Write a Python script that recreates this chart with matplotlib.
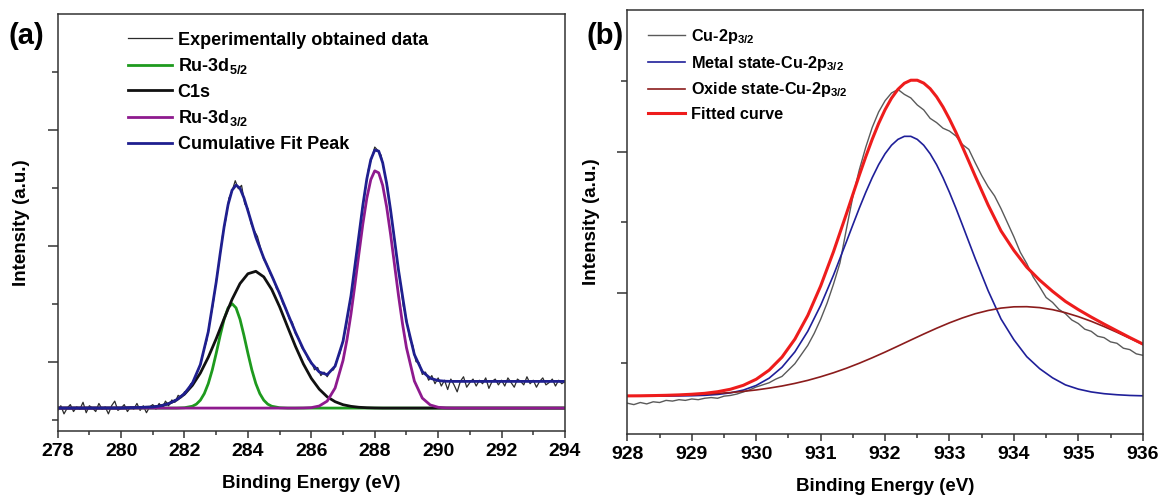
import numpy as np
import matplotlib
matplotlib.use("Agg")
import matplotlib.pyplot as plt
from matplotlib.ticker import MultipleLocator, FixedLocator

plt.rcParams['font.family'] = ['Liberation Sans', 'DejaVu Sans']
plt.rcParams['font.weight'] = 'bold'
plt.rcParams['mathtext.fontset'] = 'custom'
plt.rcParams['mathtext.rm'] = 'Liberation Sans:bold'
plt.rcParams['mathtext.it'] = 'Liberation Sans:bold'
plt.rcParams['mathtext.bf'] = 'Liberation Sans:bold'
plt.rcParams['mathtext.default'] = 'rm'

# ---- panel (a): Ru 3d / C 1s ----
a_data_y = [
    # 278.0 - 281.0
    0.58, 0.62, 0.55, 0.60, 0.63, 0.57, 0.61, 0.59, 0.65, 0.56,
    0.62, 0.60, 0.57, 0.64, 0.59, 0.61, 0.55, 0.62, 0.66, 0.58,
    0.60, 0.63, 0.57, 0.61, 0.59, 0.64, 0.58, 0.62, 0.56, 0.61, 0.63,
    # 281.1 - 289.9
    0.59, 0.64, 0.60, 0.66, 0.62, 0.67, 0.65, 0.71, 0.69,
    0.74, 0.75, 0.81, 0.83, 0.91, 0.97, 1.09, 1.18, 1.35, 1.49,
    1.70, 1.87, 2.09, 2.22, 2.41, 2.47, 2.56, 2.49, 2.52, 2.36,
    2.32, 2.19, 2.13, 2.08, 1.98, 1.88, 1.84, 1.76, 1.72, 1.63,
    1.60, 1.50, 1.46, 1.37, 1.34, 1.24, 1.20, 1.12, 1.09, 1.02,
    1.00, 0.93, 0.95, 0.88, 0.91, 0.87, 0.92, 0.93, 1.01, 1.07,
    1.19, 1.30, 1.49, 1.65, 1.88, 2.08, 2.30, 2.48, 2.66, 2.75,
    2.85, 2.82, 2.78, 2.64, 2.51, 2.29, 2.11, 1.88, 1.70, 1.48,
    1.37, 1.20, 1.14, 1.00, 0.99, 0.89, 0.91, 0.84, 0.88, 0.81,
    # 290.0 - 294.0
    0.86, 0.79, 0.84, 0.76, 0.85, 0.80, 0.74, 0.83, 0.87, 0.78,
    0.82, 0.85, 0.79, 0.84, 0.81, 0.86, 0.77, 0.83, 0.85, 0.80,
    0.84, 0.79, 0.86, 0.82, 0.78, 0.85, 0.83, 0.80, 0.87, 0.81,
    0.84, 0.78, 0.83, 0.86, 0.80, 0.82, 0.85, 0.79, 0.84, 0.81, 0.83,
]
a_data_x = np.linspace(278, 294, len(a_data_y))

ru52_x = [278, 280, 281, 281.5, 281.75, 282, 282.25,
          282.375, 282.5, 282.625, 282.75, 282.875, 283, 283.125, 283.25, 283.375,
          283.5, 283.625, 283.75, 283.875, 284, 284.125, 284.25, 284.375, 284.5, 284.625,
          284.75, 285, 285.25, 285.5, 286, 288, 290, 292, 294]
ru52 = [0.600, 0.600, 0.600, 0.600, 0.600, 0.603, 0.616,
        0.634, 0.668, 0.725, 0.811, 0.928, 1.072, 1.226, 1.366, 1.464,
        1.500, 1.464, 1.366, 1.226, 1.072, 0.928, 0.811, 0.725, 0.668, 0.634,
        0.616, 0.603, 0.600, 0.600, 0.600, 0.600, 0.600, 0.600, 0.600]

c1s_x = [278, 279, 280, 281, 281.25, 281.5, 281.75, 282, 282.25, 282.5, 282.75,
         283, 283.25, 283.5, 283.75, 284, 284.25, 284.5, 284.75, 285, 285.25,
         285.5, 285.75, 286, 286.25, 286.5, 286.75, 287, 287.25, 287.5, 287.75,
         288, 288.25, 288.5, 289, 290, 291, 292, 293, 294]
c1s = [0.600, 0.600, 0.600, 0.609, 0.619, 0.638, 0.670, 0.720, 0.796, 0.902, 1.038,
       1.198, 1.371, 1.537, 1.673, 1.758, 1.779, 1.731, 1.623, 1.473, 1.301,
       1.132, 0.980, 0.856, 0.763, 0.697, 0.655, 0.629, 0.615, 0.607, 0.603,
       0.601, 0.600, 0.600, 0.600, 0.600, 0.600, 0.600, 0.600, 0.600]

ru32_x = [278, 280, 282, 284, 285, 285.5, 285.75, 286, 286.25, 286.5, 286.75,
          287, 287.125, 287.25, 287.375, 287.5, 287.625, 287.75, 287.875, 288,
          288.125, 288.25, 288.375, 288.5, 288.625, 288.75, 288.875, 289,
          289.25, 289.5, 289.75, 290, 290.25, 290.5, 292, 294]
ru32 = [0.600, 0.600, 0.600, 0.600, 0.600, 0.600, 0.601, 0.604, 0.618, 0.660, 0.773,
        1.011, 1.191, 1.410, 1.663, 1.929, 2.187, 2.409, 2.569, 2.645,
        2.628, 2.520, 2.335, 2.097, 1.833, 1.569, 1.328, 1.121,
        0.833, 0.686, 0.627, 0.607, 0.601, 0.600, 0.600, 0.600]

cum_x = [278, 279, 280, 281, 281.25, 281.5, 281.75, 282, 282.25, 282.5, 282.75, 283,
         283.125, 283.25, 283.375, 283.5, 283.625, 283.75, 283.875, 284,
         284.25, 284.5, 284.75, 285, 285.25, 285.5, 285.75, 286, 286.25, 286.5,
         286.75, 287, 287.25, 287.5,
         287.625, 287.75, 287.875, 288, 288.125, 288.25, 288.375, 288.5,
         288.75, 289, 289.25, 289.5, 289.75, 290, 290.25, 290.5, 291, 292, 293, 294]
cum_fit = [0.600, 0.600, 0.601, 0.609, 0.619, 0.638, 0.671, 0.725, 0.815, 0.975, 1.258, 1.686,
           1.931, 2.164, 2.354, 2.478, 2.522, 2.495, 2.412, 2.301,
           2.073, 1.893, 1.742, 1.586, 1.418, 1.254, 1.107, 0.988, 0.911, 0.888,
           0.961, 1.176, 1.567, 2.086,
           2.348, 2.575, 2.741, 2.824, 2.815, 2.715, 2.537, 2.306,
           1.788, 1.346, 1.061, 0.915, 0.857, 0.837, 0.831, 0.830, 0.830, 0.830, 0.830, 0.830]

# ---- panel (b): Cu 2p3/2 ----
b_data_y = [
    0.43, 0.41, 0.44, 0.42, 0.45, 0.44, 0.47, 0.46, 0.48, 0.47,
    0.49, 0.48, 0.50, 0.51, 0.50, 0.53, 0.54, 0.56, 0.59, 0.62,
    0.66, 0.69, 0.72, 0.77, 0.81, 0.90, 0.99, 1.12, 1.25, 1.42,
    1.62, 1.85, 2.12, 2.42, 2.90, 3.36, 3.74, 4.06, 4.34, 4.56,
    4.72, 4.83, 4.88, 4.81, 4.76, 4.66, 4.59, 4.47, 4.41, 4.33,
    4.29, 4.22, 4.10, 4.03, 3.84, 3.66, 3.50, 3.37, 3.19, 2.99,
    2.79, 2.57, 2.41, 2.22, 2.08, 1.93, 1.86, 1.76, 1.70, 1.61,
    1.56, 1.48, 1.45, 1.38, 1.36, 1.30, 1.28, 1.21, 1.19, 1.13,
    1.11,
]
b_data_x = np.linspace(928, 936, len(b_data_y))

# blue and red share a grid that is finer around the peak
b_fit_x = [928.0, 928.2, 928.4, 928.6, 928.8, 929.0, 929.2, 929.4, 929.6, 929.8,
           930.0, 930.2, 930.4, 930.6, 930.8, 931.0, 931.2, 931.4,
           931.5, 931.6, 931.7, 931.8, 931.9, 932.0, 932.1, 932.2, 932.3, 932.4,
           932.5, 932.6, 932.7, 932.8, 932.9, 933.0, 933.1, 933.2, 933.3,
           933.4, 933.6, 933.8, 934.0, 934.2, 934.4, 934.6, 934.8, 935.0,
           935.2, 935.4, 935.6, 935.8, 936.0]

metal = [0.530, 0.530, 0.530, 0.531, 0.533, 0.536, 0.542, 0.554, 0.577, 0.616,
         0.682, 0.785, 0.940, 1.158, 1.450, 1.817, 2.248, 2.720,
         2.960, 3.196, 3.420, 3.628, 3.813, 3.968, 4.089, 4.172, 4.215, 4.215,
         4.172, 4.089, 3.968, 3.813, 3.628, 3.420, 3.196, 2.960, 2.720,
         2.481, 2.026, 1.625, 1.330, 1.090, 0.920, 0.790, 0.690, 0.630,
         0.590, 0.565, 0.550, 0.540, 0.535]

fitted = [0.534, 0.535, 0.538, 0.542, 0.548, 0.557, 0.570, 0.593, 0.628, 0.684,
          0.770, 0.899, 1.084, 1.339, 1.674, 2.092, 2.580, 3.116,
          3.391, 3.663, 3.925, 4.172, 4.397, 4.593, 4.756, 4.882, 4.968, 5.011,
          5.011, 4.970, 4.891, 4.776, 4.631, 4.460, 4.272, 4.069, 3.861,
          3.650, 3.241, 2.874, 2.597, 2.359, 2.176, 2.017, 1.874, 1.758,
          1.652, 1.552, 1.456, 1.361, 1.270]

oxide_x = np.linspace(928, 936, 41)
oxide = [0.534, 0.535, 0.538, 0.541, 0.545, 0.551, 0.558, 0.569, 0.581, 0.598,
         0.618, 0.644, 0.674, 0.711, 0.754, 0.805, 0.862, 0.926, 0.997, 1.074,
         1.155, 1.240, 1.326, 1.411, 1.493, 1.570, 1.639, 1.699, 1.745, 1.779,
         1.797, 1.799, 1.786, 1.757, 1.714, 1.658, 1.592, 1.517, 1.436, 1.351,
         1.265]

fig = plt.figure(figsize=(11.58, 4.95), dpi=100)
ax1 = fig.add_axes([0.0498, 0.1299, 0.4381, 0.8418])
ax2 = fig.add_axes([0.5418, 0.1242, 0.4450, 0.8546])

ax1.plot(a_data_x, a_data_y, color='#2b2b2b', lw=0.9, label='Experimentally obtained data')
ax1.plot(ru52_x, ru52, color='#1e9a1e', lw=2.0, label=r'Ru-3d$_{5/2}$')
ax1.plot(c1s_x, c1s, color='#111111', lw=2.0, label='C1s')
ax1.plot(ru32_x, ru32, color='#8e1a8e', lw=2.0, label=r'Ru-3d$_{3/2}$')
ax1.plot(cum_x, cum_fit, color='#1f1f8f', lw=2.0, label='Cumulative Fit Peak')
ax1.set_xlim(278, 294)
ax1.set_ylim(0.405, 3.997)
ax1.xaxis.set_major_locator(MultipleLocator(2))
ax1.xaxis.set_minor_locator(MultipleLocator(1))
ax1.yaxis.set_major_locator(FixedLocator([1, 2, 3]))
ax1.yaxis.set_minor_locator(FixedLocator([0.5, 1.5, 2.5, 3.5]))

ax2.plot(b_data_x, b_data_y, color='#5a5a5a', lw=1.0, label=r'Cu-2p$_{3/2}$')
ax2.plot(b_fit_x, metal, color='#1f1f99', lw=1.2, label=r'Metal state-Cu-2p$_{3/2}$')
ax2.plot(oxide_x, oxide, color='#8b1c1c', lw=1.2, label=r'Oxide state-Cu-2p$_{3/2}$')
ax2.plot(b_fit_x, fitted, color='#ee1c1c', lw=2.2, label='Fitted curve')
ax2.set_xlim(928, 936)
ax2.set_ylim(0, 6)
ax2.xaxis.set_major_locator(MultipleLocator(1))
ax2.xaxis.set_minor_locator(MultipleLocator(0.5))
ax2.yaxis.set_major_locator(FixedLocator([2, 4]))
ax2.yaxis.set_minor_locator(FixedLocator([1, 3, 5]))

for ax in (ax1, ax2):
    for sp in ax.spines.values():
        sp.set_linewidth(1.1)
        sp.set_color('#333333')
    ax.tick_params(which='both', direction='out', top=False, right=False,
                   width=1.1, color='#333333', labelleft=False)
    ax.tick_params(axis='x', which='major', length=5, pad=4, labelsize=14)
    ax.tick_params(axis='x', which='minor', length=3)
    ax.tick_params(axis='y', which='major', length=7)
    ax.tick_params(axis='y', which='minor', length=4)
    for lab in ax.get_xticklabels():
        lab.set_fontweight('bold')
    ax.set_xlabel('Binding Energy (eV)', fontsize=13.5, fontweight='bold', labelpad=11)
    ax.set_ylabel('Intensity (a.u.)', fontsize=13.5, fontweight='bold', labelpad=13)

ax1.legend(loc='upper left', bbox_to_anchor=(0.138, 0.958), frameon=False,
           borderpad=0, borderaxespad=0, handlelength=2.45, handletextpad=0.32,
           labelspacing=0.42, prop={'weight': 'bold', 'size': 13})
ax2.legend(loc='upper left', bbox_to_anchor=(0.040, 0.961), frameon=False,
           borderpad=0, borderaxespad=0, handlelength=2.3, handletextpad=0.37,
           labelspacing=0.47, prop={'weight': 'bold', 'size': 11.7})

fig.text(0.0075, 0.927, '(a)', fontsize=21, fontweight='bold', va='center', ha='left')
fig.text(0.5065, 0.927, '(b)', fontsize=21, fontweight='bold', va='center', ha='left')

fig.savefig('out.png', dpi=100)
